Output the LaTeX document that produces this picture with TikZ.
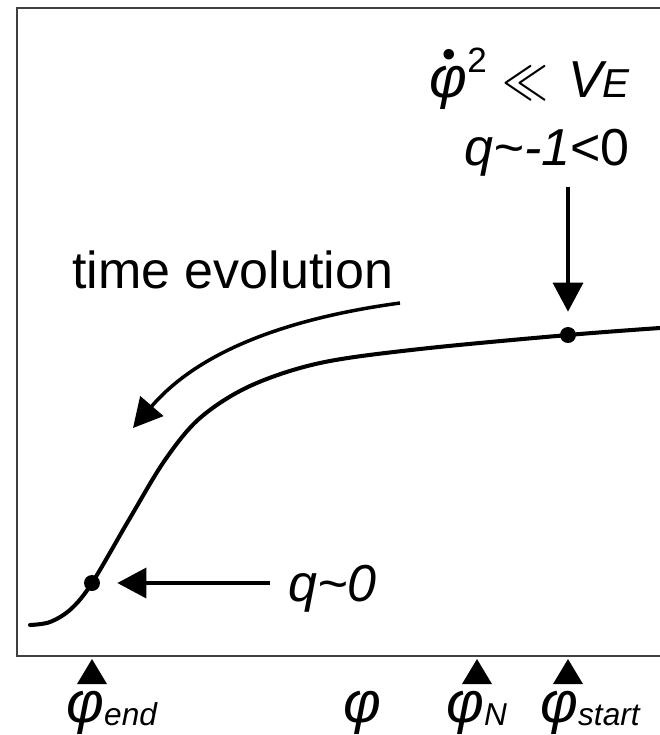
\documentclass[tikz,border=0pt]{standalone}
\usepackage{fontspec}
\usepackage{graphicx}
\setmainfont{Liberation Sans}
\usetikzlibrary{arrows.meta}

\newcommand{\bphi}{{\fontsize{33}{36}\selectfont φ}}
\newcommand{\sbs}[1]{\raisebox{-2pt}{\fontsize{18}{20}\selectfont #1}}
\newcommand{\phidot}{\rlap{\hspace{7.5pt}\raisebox{17pt}{\fontsize{22}{22}\selectfont\upshape\textbullet}}\bphi}

\begin{document}
\begin{tikzpicture}[x=0.02cm, y=-0.02cm,
    curve/.style={line width=2.3pt, line cap=round},
    pointer/.style={line width=2pt, -{Triangle[length=0.58cm, width=0.6cm]}},
    dot/.style={circle, fill, inner sep=0pt, minimum size=0.32cm},
    big/.style={inner sep=0pt, font=\fontsize{29.6}{34}\selectfont\itshape}
]
    \useasboundingbox (0,0) rectangle (660,735);

    % frame, open on the right
    \draw[line width=1pt, black!75] (670,8) -- (17,8) -- (17,656) -- (670,656);

    \draw[curve] plot[smooth, tension=0.55] coordinates {(30,625) (50,622) (71,609) (92,583) (130,518)
        (165,460) (200,418) (250,386) (320,363) (420,349) (568,335) (660,328)};
    \node[dot] (endpt) at (92,583) {};
    \node[dot] (startpt) at (568,335) {};

    \node[big, anchor=base east] (cond) at (630,97) {\phidot\raisebox{0.48em}{\fontsize{20}{20}\selectfont\upshape 2}\hspace{9pt}\scalebox{1.05}[1.3]{$\ll$}\hspace{11pt}V{\fontsize{23}{25}\selectfont E}};
    \node[big, anchor=base east] (qstart) at (630,165) {q\char"7E-1{\upshape<0}};
    \coordinate (downtail) at (568,187);
    \draw[pointer, shorten >=0.3cm] (downtail) -- (startpt);

    \node[big, font=\fontsize{29.6}{34}\selectfont\upshape, anchor=base west] (evo) at (72,288) {time evolution};
    \coordinate (evotail) at (400,303);
    \coordinate (evohead) at (133,428);
    \draw[pointer] (evotail) .. controls (290,318) and (200,350) .. (evohead);

    \node[big, anchor=base west] (qend) at (288,601) {q\char"7E 0};
    \draw[pointer, shorten >=0.34cm] ([xshift=-0.36cm]qend.west |- endpt) -- (endpt);

    % markers on the axis
    \foreach \xm in {92,477,568}
        \fill (\xm,659) -- ++(15,25) -- ++(-30,0) -- cycle;

    \node[big, anchor=base west] (phiend) at (66,722) {\bphi\sbs{end}};
    \node[big, anchor=base west] (phi) at (343,722) {\bphi};
    \node[big, anchor=base west] (phin) at (446,722) {\bphi\sbs{N}};
    \node[big, anchor=base west] (phistart) at (540,722) {\bphi\sbs{start}};
\end{tikzpicture}
\end{document}
